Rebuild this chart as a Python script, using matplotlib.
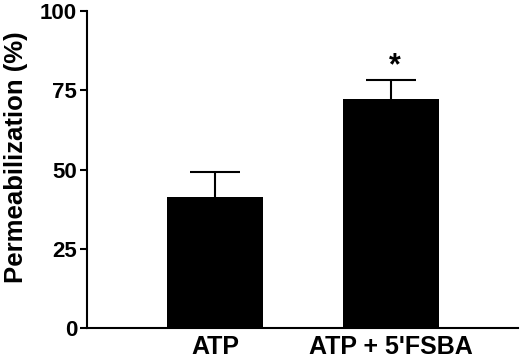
import matplotlib
matplotlib.use("Agg")
import matplotlib.pyplot as plt

categories = ["ATP", "ATP + 5'FSBA"]
values = [41.3, 72.2]
errors = [8.0, 6.0]
yticks = [0, 25, 50, 75, 100]

plt.rcParams['font.family'] = ['Liberation Sans', 'DejaVu Sans']
plt.rcParams['font.weight'] = 'bold'

fig = plt.figure(figsize=(5.2, 3.58), dpi=100)
ax = fig.add_axes([0.167, 0.084, 0.829, 0.885])

x = [0, 1]
ax.bar(x, values, width=0.545, color='black', zorder=2)
tops = [v + e for v, e in zip(values, errors)]
ax.vlines(x, values, tops, color='black', linewidth=1.5, zorder=1)
ax.hlines(tops, [xi - 0.14 for xi in x], [xi + 0.14 for xi in x],
          color='black', linewidth=1.5, zorder=1)
ax.text(1.02, tops[1] + 4.5, '*', ha='center', va='center',
        fontsize=22, fontweight='bold')

ax.set_xlim(-0.727, 1.72)
ax.set_ylim(0, 100)
ax.set_yticks(yticks)
ax.set_yticklabels([str(t) for t in yticks], fontsize=16, fontweight='bold')
ax.set_xticks(x)
ax.set_xticklabels(categories, fontsize=18, fontweight='bold')
ax.tick_params(axis='x', length=0, pad=5)
ax.tick_params(axis='y', length=5, width=1.5, pad=2)
ax.set_ylabel('Permeabilization (%)', fontsize=18.5, fontweight='bold')
ax.yaxis.set_label_coords(-0.136, 0.54)
for s in ['top', 'right']:
    ax.spines[s].set_visible(False)
for s in ['left', 'bottom']:
    ax.spines[s].set_linewidth(1.5)

fig.savefig('out.png', dpi=100)
